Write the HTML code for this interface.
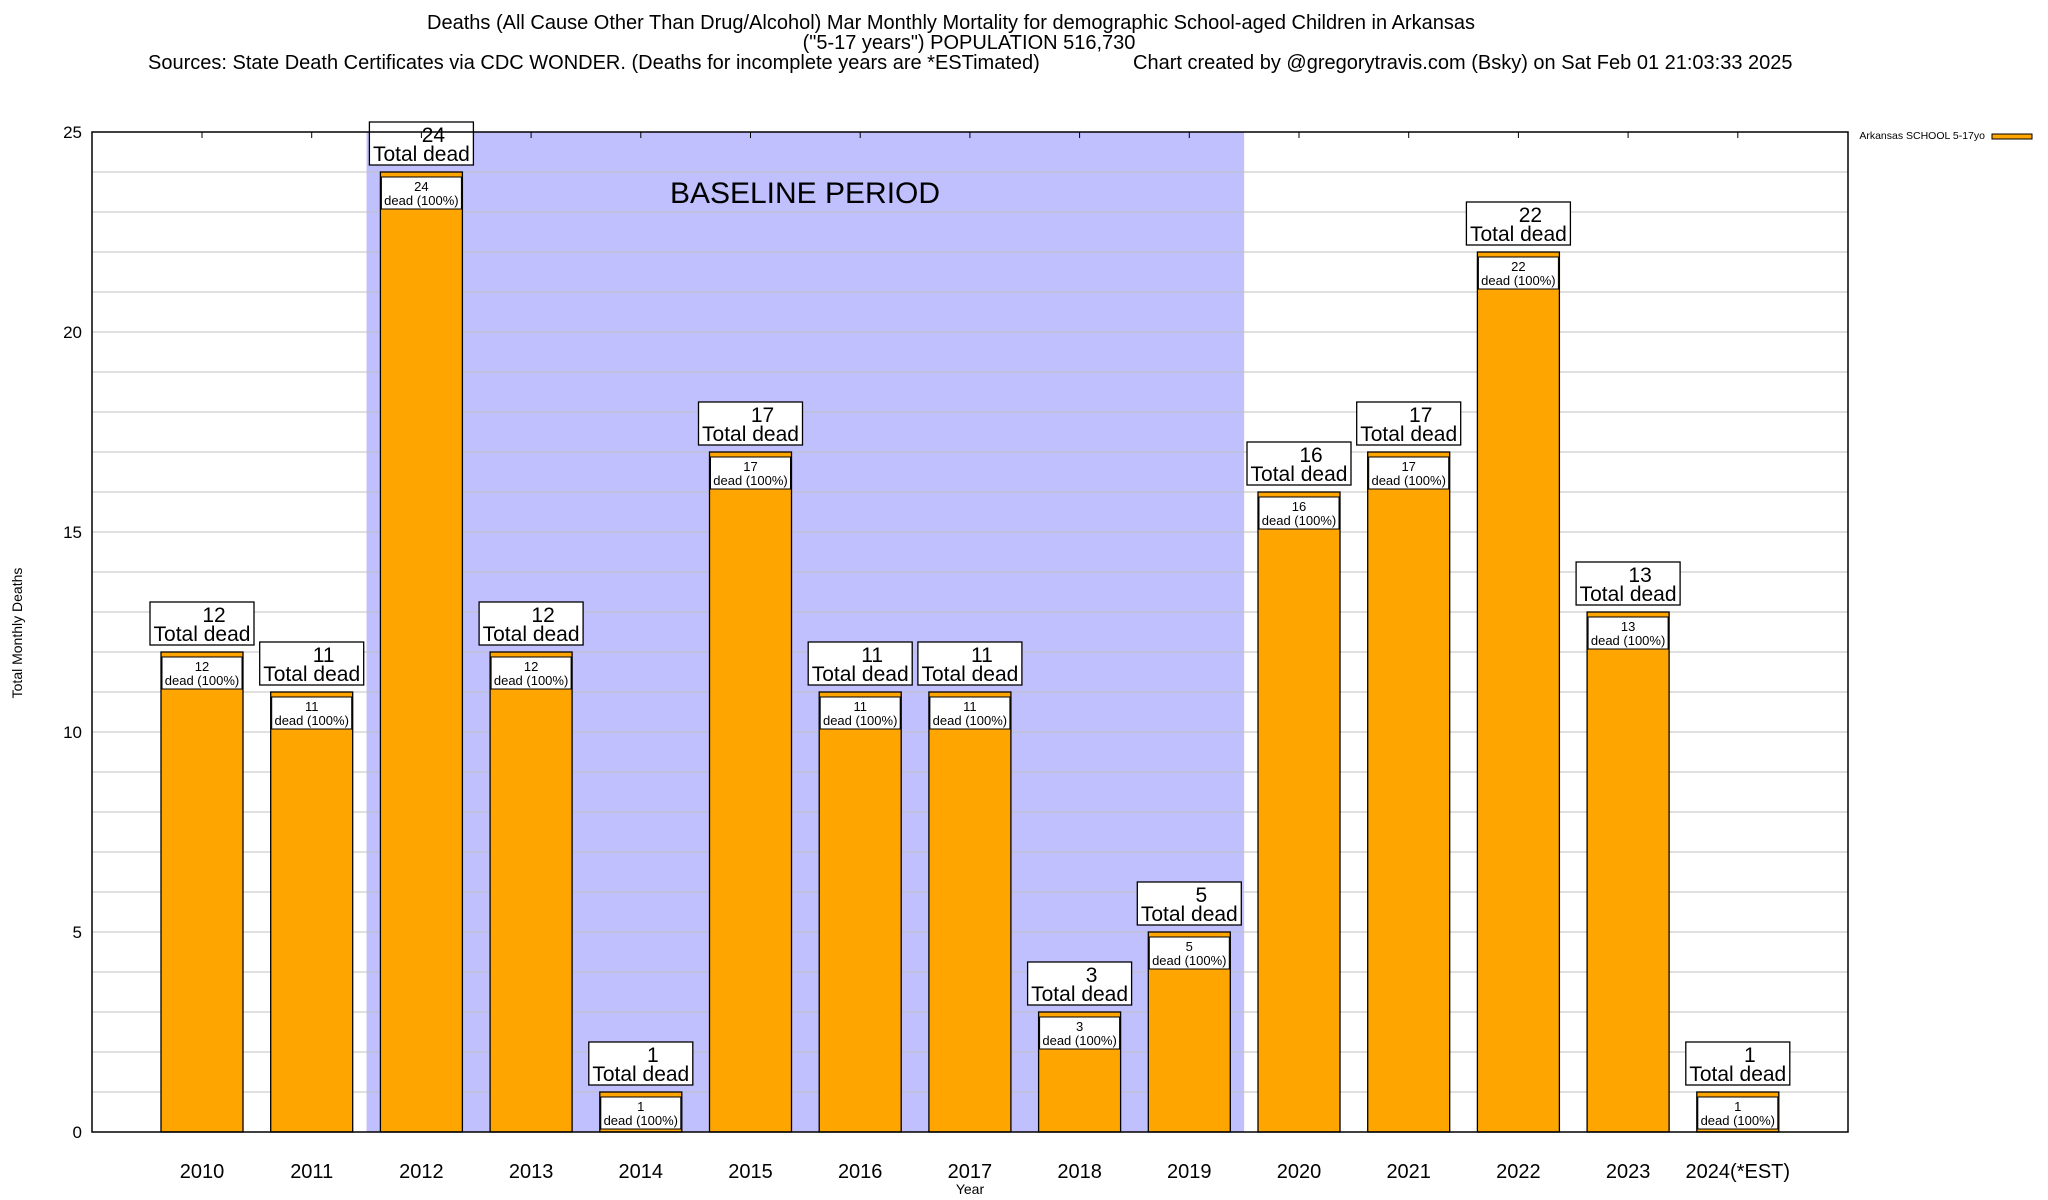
<!DOCTYPE html>
<html><head><meta charset="utf-8"><style>
html,body{margin:0;padding:0;background:#fff;}
svg{display:block;font-family:"Liberation Sans",sans-serif;}
</style></head><body>
<svg id="chart" width="2048" height="1200" viewBox="0 0 2048 1200">
<g font-size="20" fill="#000">
<text x="951" y="29" text-anchor="middle">Deaths (All Cause Other Than Drug/Alcohol) Mar Monthly Mortality for demographic School-aged Children in Arkansas</text>
<text x="969" y="49" text-anchor="middle">("5-17 years") POPULATION 516,730</text>
<text x="148" y="69">Sources: State Death Certificates via CDC WONDER. (Deaths for incomplete years are *ESTimated)</text>
<text x="1133" y="69">Chart created by @gregorytravis.com (Bsky) on Sat Feb 01 21:03:33 2025</text>
</g>
<g id="plot"></g>
<text x="22" y="633" font-size="14" text-anchor="middle" transform="rotate(-90 22 633)">Total Monthly Deaths</text>
<text x="970" y="1194" font-size="14" text-anchor="middle">Year</text>
<g>
<text x="1985" y="139" font-size="10.5" text-anchor="end">Arkansas SCHOOL 5-17yo</text>
<rect x="1992" y="134" width="40" height="5" fill="#ffa500" stroke="#000" stroke-width="1"/>
</g>
</svg>
<script>
const categories = ["2010","2011","2012","2013","2014","2015","2016","2017","2018","2019","2020","2021","2022","2023","2024(*EST)"];
const deaths = [12,11,24,12,1,17,11,11,3,5,16,17,22,13,1];
const yTicks = [0,5,10,15,20,25];
const baselineStart = 2; // index of first baseline year
const baselineEnd = 9;   // index of last baseline year

const NS = "http://www.w3.org/2000/svg";
const L = 92, R = 1848, T = 132, B = 1132, YMAX = 25;
const step = 109.7, x0 = 202, bw = 82;
const xc = i => x0 + i * step;
const y = v => B - (v / YMAX) * (B - T);
const g = document.getElementById("plot");
function mk(tag, attrs, parent) {
  const e = document.createElementNS(NS, tag);
  for (const k in attrs) e.setAttribute(k, attrs[k]);
  (parent || g).appendChild(e);
  return e;
}
let band = mk("rect", {x: (xc(baselineStart - 1) + xc(baselineStart)) / 2, y: T, width: (xc(baselineEnd) + xc(baselineEnd + 1)) / 2 - (xc(baselineStart - 1) + xc(baselineStart)) / 2, height: B - T, fill: "#c0c0ff"});


let bt = mk("text", {x: 805, y: 203, "font-size": 30, "text-anchor": "middle"});
bt.textContent = "BASELINE PERIOD";


for (let v = 1; v < YMAX; v++) {
  let gl = mk("line", {x1: L, x2: R, y1: y(v), y2: y(v), stroke: "#c0c0c0", "stroke-width": 1});
  
  
}
yTicks.forEach(v => {
  let t = mk("text", {x: 82, y: y(v) + 6, "font-size": 17, "text-anchor": "end"});
  t.textContent = v;
  
  
});
categories.forEach((c, i) => {
  const v = deaths[i], cx = xc(i), top = y(v);
  let bar = mk("rect", {x: cx - bw / 2, y: top, width: bw, height: B - top, fill: "#ffa500", stroke: "#000", "stroke-width": 1.3});
  
  
  let ib = mk("rect", {x: cx - bw / 2 + 1, y: top + 5, width: bw - 2, height: 32, fill: "#fff", stroke: "#000", "stroke-width": 1});
  
  
  let t1 = mk("text", {x: cx, y: top + 19, "font-size": 13, "text-anchor": "middle"});
  t1.textContent = v;
  
  
  let t2 = mk("text", {x: cx, y: top + 33, "font-size": 13, "text-anchor": "middle"});
  t2.textContent = "dead (100%)";
  
  
  let ob = mk("rect", {x: cx - 52, y: top - 50, width: 104, height: 43, fill: "#fff", stroke: "#000", "stroke-width": 1.3});
  
  
  let o1 = mk("text", {x: cx + 12, y: top - 30, "font-size": 21, "text-anchor": "middle"});
  o1.textContent = v;
  
  
  let o2 = mk("text", {x: cx, y: top - 11, "font-size": 21, "text-anchor": "middle"});
  o2.textContent = "Total dead";
  
  
  let xl = mk("text", {x: cx, y: 1178, "font-size": 20, "text-anchor": "middle"});
  xl.textContent = c;
  
  
  let tk = mk("line", {x1: cx, x2: cx, y1: T, y2: T + 6, stroke: "#000"});
  
  
});
let frame = mk("rect", {x: L, y: T, width: R - L, height: B - T, fill: "none", stroke: "#000", "stroke-width": 1.5});


</script>
</body></html>
